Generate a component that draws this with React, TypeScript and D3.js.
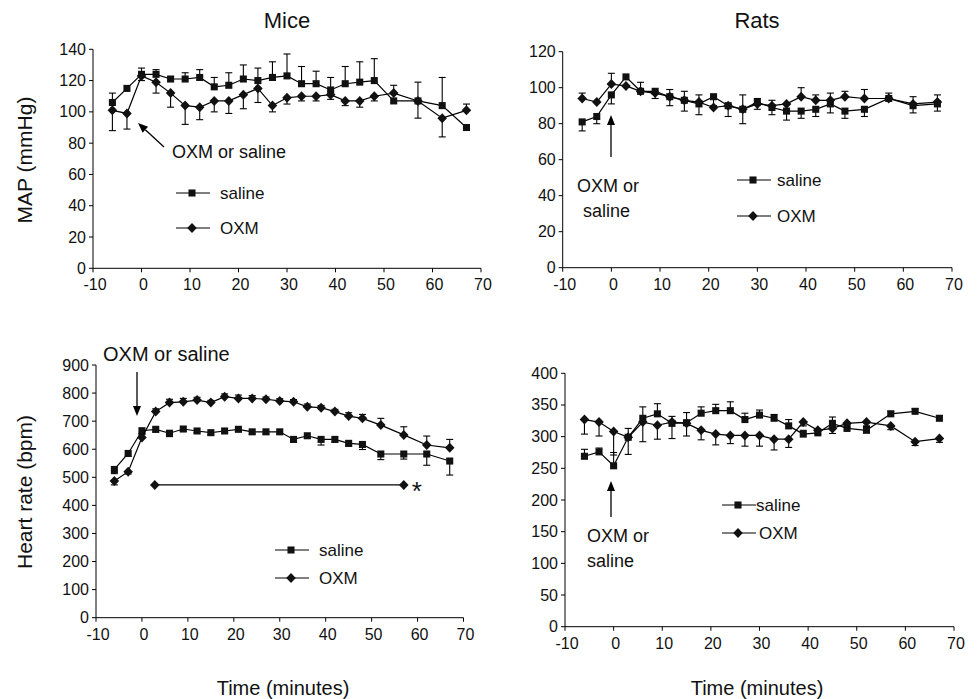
import * as d3 from 'd3';

// sampling times (minutes), same for all four panels
const minutes = [-6, -3, 0, 3, 6, 9, 12, 15, 18, 21, 24, 27, 30, 33, 36, 39, 42, 45, 48, 52, 57, 62, 67];
const xTicks = [-10, 0, 10, 20, 30, 40, 50, 60, 70];

// Mice MAP (mmHg)
const miceMapSaline = [106, 115, 124, 124, 121, 121, 122, 116, 117, 121, 120, 122, 123, 118, 118, 114, 118, 119, 120, 107, 107, 104, 90];
const miceMapSalineErr = [6, 0, 4, 3, 0, 4, 5, 6, 8, 9, 8, 10, 14, 11, 8, 8, 11, 13, 14, 0, 12, 18, 0];
const miceMapOxm = [101, 99, 123, 119, 112, 104, 103, 107, 107, 111, 115, 104, 109, 110, 110, 111, 107, 107, 110, 112, 107, 96, 101];
const miceMapOxmErr = [-13, -10, -3, -7, -9, -12, -8, -7, -8, -9, -9, -4, -4, -3, -3, -3, -3, -4, -3, 5, -11, -12, 4];
const miceMapTicks = [0, 20, 40, 60, 80, 100, 120, 140];

// Rats MAP (mmHg)
const ratsMapSaline = [81, 84, 96, 106, 98, 98, 95, 93, 91, 95, 90, 88, 92, 89, 87, 87, 88, 91, 87, 88, 94, 90, 91];
const ratsMapSalineErr = [-5, -4, -5, 0, 0, -4, -5, -6, -6, -5, -6, -8, -4, -4, -5, -4, -4, -5, -4, -4, 0, -4, -4];
const ratsMapOxm = [94, 92, 102, 101, 98, 97, 95, 93, 92, 89, 90, 88, 91, 90, 91, 95, 93, 93, 95, 94, 94, 91, 92];
const ratsMapOxmErr = [3, 0, 6, 0, 5, 0, 4, 5, 4, 0, 0, 8, 3, 3, 0, 5, 3, 4, 3, 5, 3, 4, 4];
const ratsMapTicks = [0, 20, 40, 60, 80, 100, 120];

// Mice heart rate (bpm)
const miceHrSaline = [528, 585, 666, 671, 657, 672, 665, 659, 665, 671, 662, 662, 662, 635, 648, 635, 635, 621, 617, 583, 583, 583, 558];
const miceHrSalineErr = [-15, -10, -10, -10, -12, -8, -6, -8, -6, -8, -8, -8, -8, -10, -8, -20, -10, -10, -18, -20, -18, -40, -50];
const miceHrOxm = [487, 520, 642, 734, 766, 769, 775, 766, 787, 781, 781, 778, 772, 769, 751, 748, 734, 718, 710, 686, 651, 615, 605];
const miceHrOxmErr = [-14, -8, 10, 10, 12, 12, 10, 8, 10, 12, 10, 8, 8, 8, 10, 8, 8, 12, 14, 24, 29, 32, 30];
const miceHrTicks = [0, 100, 200, 300, 400, 500, 600, 700, 800, 900];
const sigRange = [2.8, 57];
const sigLevel = 473;

// Rats heart rate (bpm)
const ratsHrSaline = [269, 276, 254, 299, 329, 336, 321, 322, 337, 341, 341, 327, 334, 329, 317, 304, 306, 321, 313, 310, 336, 340, 329];
const ratsHrSalineErr = [11, 6, 21, 14, 18, 16, 11, 16, 10, 10, 14, 10, 8, 6, 10, 6, 6, 10, 6, 6, 4, 4, 4];
const ratsHrOxm = [327, 323, 308, 299, 323, 318, 323, 321, 310, 304, 302, 302, 302, 296, 296, 323, 310, 313, 321, 323, 317, 292, 297];
const ratsHrOxmErr = [-23, -22, -37, -27, -31, -22, -26, -20, -15, -17, -13, -17, -17, -17, -13, -6, -6, -8, -6, -6, -6, -6, -6];
const ratsHrTicks = [0, 50, 100, 150, 200, 250, 300, 350, 400];

const FONT = "'Liberation Sans', Arial, Helvetica, sans-serif";
const squarePath = d3.symbol().type(d3.symbolSquare).size(50)();
const diamondPath = 'M0,-5L4.8,0L0,5L-4.8,0Z';

type Scale = d3.ScaleLinear<number, number>;

function Series({ x, y, values, errs, shape }: { x: Scale; y: Scale; values: number[]; errs: number[]; shape: string }) {
  const line = d3.line<number>().x((d, i) => x(minutes[i])).y(d => y(d));
  return (
    <g>
      <path d={line(values) || ''} fill="none" stroke="#000" strokeWidth={1.2} />
      {values.map((v, i) => {
        const e = errs[i];
        if (!e) return null;
        const cx = x(minutes[i]);
        return (
          <g key={'e' + i} stroke="#000" strokeWidth={1.1}>
            <line x1={cx} x2={cx} y1={y(v)} y2={y(v + e)} />
            <line x1={cx - 3.5} x2={cx + 3.5} y1={y(v + e)} y2={y(v + e)} />
          </g>
        );
      })}
      {values.map((v, i) => (
        <path key={'m' + i} d={shape} transform={`translate(${x(minutes[i])},${y(v)})`} fill="#111" />
      ))}
    </g>
  );
}

function Axes({ x, y, yTicks }: { x: Scale; y: Scale; yTicks: number[] }) {
  const [x0, x1] = x.range();
  const [y0, y1] = y.range();
  return (
    <g fontFamily={FONT} fontSize={16} fill="#111">
      <line x1={x0} x2={x0} y1={y0} y2={y1} stroke="#000" />
      <line x1={x0} x2={x1} y1={y0} y2={y0} stroke="#000" />
      {yTicks.map(t => (
        <g key={'y' + t}>
          <line x1={x0 - 4} x2={x0} y1={y(t)} y2={y(t)} stroke="#000" />
          <text x={x0 - 7} y={y(t) + 5.5} textAnchor="end">{t}</text>
        </g>
      ))}
      {xTicks.map(t => (
        <g key={'x' + t}>
          <line x1={x(t)} x2={x(t)} y1={y0} y2={y0 + 4} stroke="#000" />
          <text x={x(t) + 2} y={y0 + 22} textAnchor="middle">{t}</text>
        </g>
      ))}
    </g>
  );
}

function LegendItem({ x, y, shape, label, gap }: { x: number; y: number; shape: string; label: string; gap: number }) {
  return (
    <g>
      <line x1={x} x2={x + 34} y1={y} y2={y} stroke="#000" strokeWidth={1.2} />
      <path d={shape} transform={`translate(${x + 16},${y})`} fill="#111" />
      <text x={x + 34 + gap} y={y + 6} fontFamily={FONT} fontSize={17} fill="#111">{label}</text>
    </g>
  );
}

function Arrow({ x1, y1, x2, y2 }: { x1: number; y1: number; x2: number; y2: number }) {
  const a = Math.atan2(y2 - y1, x2 - x1);
  const len = 10, w = 4;
  const bx = x2 - len * Math.cos(a), by = y2 - len * Math.sin(a);
  const p1 = [bx + w * Math.sin(a), by - w * Math.cos(a)];
  const p2 = [bx - w * Math.sin(a), by + w * Math.cos(a)];
  return (
    <g>
      <line x1={x1} y1={y1} x2={bx} y2={by} stroke="#000" strokeWidth={1.3} />
      <path d={`M${x2},${y2}L${p1[0]},${p1[1]}L${p2[0]},${p2[1]}Z`} fill="#000" />
    </g>
  );
}

export default function App() {
  // Mice MAP
  const xA = d3.scaleLinear().domain([-10, 70]).range([93, 481]);
  const yA = d3.scaleLinear().domain([0, 140]).range([268.3, 49.3]);
  // Rats MAP
  const xB = d3.scaleLinear().domain([-10, 70]).range([562.7, 952]);
  const yB = d3.scaleLinear().domain([0, 120]).range([267.7, 51.7]);
  // Mice HR
  const xC = d3.scaleLinear().domain([-10, 70]).range([96, 463.5]);
  const yC = d3.scaleLinear().domain([0, 900]).range([617.7, 365]);
  // Rats HR
  const xD = d3.scaleLinear().domain([-10, 70]).range([565, 954]);
  const yD = d3.scaleLinear().domain([0, 400]).range([626.7, 373.3]);

  const textStyle = { fontFamily: FONT, fill: '#111' };

  return (
    <svg width={979} height={699} style={{ position: 'absolute', left: 0, top: 0, background: '#fff' }}>
      <rect width={979} height={699} fill="#fff" />

      <text x={287} y={28} textAnchor="middle" fontSize={22} {...textStyle}>Mice</text>
      <text x={757} y={28} textAnchor="middle" fontSize={22} {...textStyle}>Rats</text>

      <text transform="translate(32,160) rotate(-90)" textAnchor="middle" fontSize={21} {...textStyle}>MAP (mmHg)</text>
      <text transform="translate(32,492) rotate(-90)" textAnchor="middle" fontSize={21} {...textStyle}>Heart rate (bpm)</text>
      <text x={283} y={695} textAnchor="middle" fontSize={20} {...textStyle}>Time (minutes)</text>
      <text x={757} y={695} textAnchor="middle" fontSize={20} {...textStyle}>Time (minutes)</text>

      {/* Mice MAP */}
      <Axes x={xA} y={yA} yTicks={miceMapTicks} />
      <Series x={xA} y={yA} values={miceMapSaline} errs={miceMapSalineErr} shape={squarePath} />
      <Series x={xA} y={yA} values={miceMapOxm} errs={miceMapOxmErr} shape={diamondPath} />
      <Arrow x1={164} y1={147} x2={138} y2={123} />
      <text x={172} y={158} fontSize={18} {...textStyle}>OXM or saline</text>
      <LegendItem x={176} y={193} shape={squarePath} label="saline" gap={10} />
      <LegendItem x={176} y={228} shape={diamondPath} label="OXM" gap={10} />

      {/* Rats MAP */}
      <Axes x={xB} y={yB} yTicks={ratsMapTicks} />
      <Series x={xB} y={yB} values={ratsMapSaline} errs={ratsMapSalineErr} shape={squarePath} />
      <Series x={xB} y={yB} values={ratsMapOxm} errs={ratsMapOxmErr} shape={diamondPath} />
      <Arrow x1={611} y1={157} x2={611} y2={115} />
      <text x={577} y={192} fontSize={18} {...textStyle}>OXM or</text>
      <text x={583} y={217} fontSize={18} {...textStyle}>saline</text>
      <LegendItem x={737} y={180} shape={squarePath} label="saline" gap={6} />
      <LegendItem x={737} y={216} shape={diamondPath} label="OXM" gap={6} />

      {/* Mice HR */}
      <Axes x={xC} y={yC} yTicks={miceHrTicks} />
      <Series x={xC} y={yC} values={miceHrSaline} errs={miceHrSalineErr} shape={squarePath} />
      <Series x={xC} y={yC} values={miceHrOxm} errs={miceHrOxmErr} shape={diamondPath} />
      <line x1={xC(sigRange[0])} x2={xC(sigRange[1])} y1={yC(sigLevel)} y2={yC(sigLevel)} stroke="#000" strokeWidth={1.1} />
      {sigRange.map(t => (
        <path key={t} d={diamondPath} transform={`translate(${xC(t)},${yC(sigLevel)})`} fill="#111" />
      ))}
      <text x={xC(sigRange[1]) + 8} y={yC(sigLevel) + 15} fontSize={26} {...textStyle}>*</text>
      <text x={103} y={361} fontSize={20} {...textStyle}>OXM or saline</text>
      <Arrow x1={137} y1={372} x2={137} y2={416} />
      <LegendItem x={275} y={550} shape={squarePath} label="saline" gap={10} />
      <LegendItem x={275} y={578} shape={diamondPath} label="OXM" gap={10} />

      {/* Rats HR */}
      <Axes x={xD} y={yD} yTicks={ratsHrTicks} />
      <Series x={xD} y={yD} values={ratsHrSaline} errs={ratsHrSalineErr} shape={squarePath} />
      <Series x={xD} y={yD} values={ratsHrOxm} errs={ratsHrOxmErr} shape={diamondPath} />
      <Arrow x1={611} y1={517} x2={611} y2={481} />
      <text x={587} y={542} fontSize={18} {...textStyle}>OXM or</text>
      <text x={587} y={567} fontSize={18} {...textStyle}>saline</text>
      <LegendItem x={722} y={505} shape={squarePath} label="saline" gap={0} />
      <LegendItem x={722} y={533} shape={diamondPath} label="OXM" gap={3} />
    </svg>
  );
}
